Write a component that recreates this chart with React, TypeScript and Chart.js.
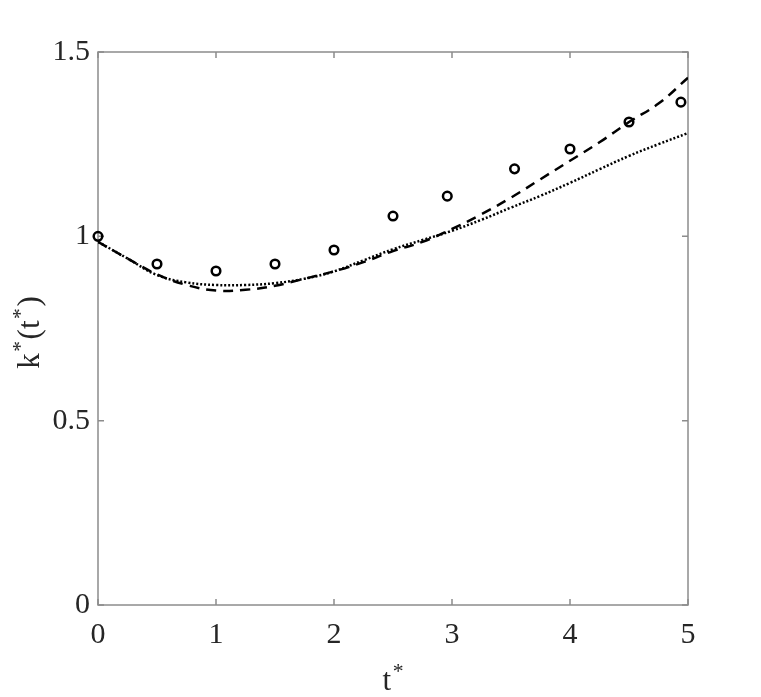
import React, { useEffect, useRef } from "react";
import { Chart, registerables } from "chart.js";

Chart.register(...registerables);

const lineX = [0, 0.25, 0.5, 0.75, 1, 1.25, 1.5, 1.75, 2, 2.25, 2.5, 2.75, 3, 3.25, 3.5, 3.75, 4, 4.25, 4.5, 4.75, 5];
const dashedY = [0.985, 0.94, 0.897, 0.868, 0.853, 0.855, 0.866, 0.885, 0.905, 0.93, 0.96, 0.985, 1.02, 1.06, 1.105, 1.155, 1.205, 1.255, 1.31, 1.36, 1.43];
const dottedY = [0.985, 0.94, 0.895, 0.875, 0.868, 0.868, 0.873, 0.885, 0.905, 0.935, 0.965, 0.99, 1.015, 1.045, 1.078, 1.11, 1.145, 1.182, 1.218, 1.25, 1.28];
const circleX = [0, 0.5, 1, 1.5, 2, 2.5, 2.96, 3.53, 4, 4.5, 4.94];
const circleY = [1.0, 0.925, 0.906, 0.925, 0.963, 1.055, 1.109, 1.183, 1.237, 1.31, 1.364];
const xTickLabels = ["0", "1", "2", "3", "4", "5"];
const yTickLabels = ["0", "0.5", "1", "1.5"];
const xTitle = [{ t: "t", sup: false }, { t: "*", sup: true }];
const yTitle = [
  { t: "k", sup: false },
  { t: "*", sup: true },
  { t: "(t", sup: false },
  { t: "*", sup: true },
  { t: ")", sup: false },
];

const FONT = "'Liberation Serif', 'Times New Roman', serif";
const TXT = "#262626";
const AXIS = "#8c8c8c";

function drawRich(ctx: CanvasRenderingContext2D, segs: { t: string; sup: boolean }[], cx: number, baseY: number, size: number) {
  const supSize = size * 0.7;
  const gap = 1.5;
  let w = 0;
  for (const s of segs) {
    ctx.font = `${s.sup ? supSize : size}px ${FONT}`;
    w += ctx.measureText(s.t).width + gap;
  }
  w -= gap;
  let x = cx - w / 2;
  ctx.textBaseline = "alphabetic";
  ctx.textAlign = "left";
  for (const s of segs) {
    ctx.font = `${s.sup ? supSize : size}px ${FONT}`;
    ctx.fillText(s.t, x, s.sup ? baseY - size * 0.38 : baseY);
    x += ctx.measureText(s.t).width + gap;
  }
}

const framePlugin = {
  id: "frame",
  beforeDatasetsDraw(chart: any) {
    const { ctx, chartArea: a, scales } = chart;
    ctx.save();
    ctx.strokeStyle = AXIS;
    ctx.lineWidth = 1.5;
    ctx.strokeRect(a.left, a.top, a.right - a.left, a.bottom - a.top);
    const tl = 6;
    ctx.beginPath();
    for (const t of scales.x.ticks) {
      const px = scales.x.getPixelForValue(t.value);
      ctx.moveTo(px, a.bottom);
      ctx.lineTo(px, a.bottom - tl);
      ctx.moveTo(px, a.top);
      ctx.lineTo(px, a.top + tl);
    }
    for (const t of scales.y.ticks) {
      const py = scales.y.getPixelForValue(t.value);
      ctx.moveTo(a.left, py);
      ctx.lineTo(a.left + tl, py);
      ctx.moveTo(a.right, py);
      ctx.lineTo(a.right - tl, py);
    }
    ctx.stroke();
    ctx.restore();
  },
  afterDraw(chart: any) {
    const { ctx, chartArea: a } = chart;
    ctx.save();
    ctx.fillStyle = TXT;
    drawRich(ctx, xTitle, (a.left + a.right) / 2, 690, 31);
    ctx.translate(39, (a.top + a.bottom) / 2 + 4);
    ctx.rotate(-Math.PI / 2);
    drawRich(ctx, yTitle, 0, 0, 31);
    ctx.restore();
  },
};

export default function App() {
  const ref = useRef<HTMLCanvasElement>(null);
  useEffect(() => {
    if (!ref.current) return;
    const chart = new Chart(ref.current, {
      type: "line",
      data: {
        datasets: [
          {
            data: lineX.map((x, i) => ({ x, y: dashedY[i] })),
            borderColor: "#000",
            borderWidth: 2.5,
            borderDash: [10, 7],
            pointRadius: 0,
            tension: 0.4,
            fill: false,
          },
          {
            data: lineX.map((x, i) => ({ x, y: dottedY[i] })),
            borderColor: "#000",
            borderWidth: 2.5,
            borderDash: [2, 2],
            pointRadius: 0,
            tension: 0.4,
            fill: false,
          },
          {
            data: circleX.map((x, i) => ({ x, y: circleY[i] })),
            showLine: false,
            pointRadius: 4.3,
            pointBorderWidth: 2.5,
            pointBorderColor: "#000",
            pointBackgroundColor: "rgba(0,0,0,0)",
            clip: false as any,
          },
        ],
      },
      options: {
        responsive: false,
        animation: false,
        events: [],
        layout: { padding: { left: 0, top: 52, right: 73, bottom: 0 } },
        plugins: { legend: { display: false }, tooltip: { enabled: false } },
        scales: {
          x: {
            type: "linear",
            min: 0,
            max: 5,
            afterFit: (s: any) => { s.height = 92; },
            grid: { display: false, drawTicks: false },
            border: { display: false },
            ticks: {
              stepSize: 1,
              padding: 12,
              color: TXT,
              font: { family: FONT, size: 30 },
              maxRotation: 0,
              callback: (_v: any, i: number) => xTickLabels[i],
            },
          },
          y: {
            type: "linear",
            min: 0,
            max: 1.5,
            afterFit: (s: any) => { s.width = 98; },
            grid: { display: false, drawTicks: false },
            border: { display: false },
            ticks: {
              stepSize: 0.5,
              padding: 8,
              color: TXT,
              font: { family: FONT, size: 30 },
              callback: (_v: any, i: number) => yTickLabels[i],
            },
          },
        },
      },
      plugins: [framePlugin],
    });
    return () => chart.destroy();
  }, []);
  return (
    <div style={{ position: "absolute", left: 0, top: 0, width: 761, height: 697, background: "#fff" }}>
      <canvas ref={ref} width={761} height={697} />
    </div>
  );
}
